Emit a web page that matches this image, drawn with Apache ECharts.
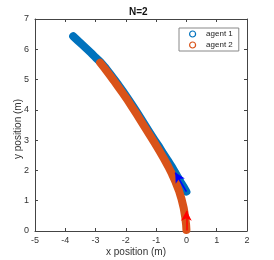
<!DOCTYPE html>
<html><head><meta charset="utf-8">
<script src="https://cdn.jsdelivr.net/npm/echarts@6/dist/echarts.min.js"></script>
<style>html,body{margin:0;padding:0;background:#fff}#c{width:274px;height:260px}</style>
</head><body><div id="c"></div><script>
const xTicks = [-5, -4, -3, -2, -1, 0, 1, 2];
const yTicks = [0, 1, 2, 3, 4, 5, 6, 7];
const agent1X = [-3.74,-3.60,-3.45,-3.30,-3.15,-3.00,-2.85,-2.70,-2.55,-2.40,-2.25,-2.10,-1.95,-1.80,-1.65,-1.50,-1.35,-1.20,-1.05,-0.90,-0.76,-0.62,-0.50,-0.38,-0.28,-0.18,-0.08,0.00];
const agent1Y = [6.43,6.30,6.16,6.02,5.88,5.73,5.59,5.42,5.23,5.03,4.83,4.62,4.40,4.18,3.95,3.71,3.47,3.23,3.00,2.78,2.55,2.34,2.15,1.95,1.77,1.60,1.44,1.30];
const agent2X = [-2.85,-2.70,-2.55,-2.40,-2.25,-2.10,-1.95,-1.80,-1.65,-1.50,-1.35,-1.20,-1.05,-0.90,-0.75,-0.60,-0.48,-0.36,-0.25,-0.16,-0.09,-0.04,-0.01,0.00];
const agent2Y = [5.56,5.37,5.17,4.97,4.76,4.55,4.33,4.10,3.87,3.63,3.39,3.15,2.91,2.66,2.40,2.13,1.89,1.62,1.34,1.05,0.76,0.46,0.20,0.03];
const arrow1 = [[0.00, 1.30], [-0.37, 1.93]];
const arrow2 = [[0.00, 0.02], [0.00, 0.67]];
const names = ['agent 1', 'agent 2'];
const colors = ['#0072BD', '#D95319'];
const arrowColors = ['#0000FF', '#FF0000'];

const zip = (xs, ys) => xs.map((x, i) => [x, ys[i]]);
const axisCol = '#444';
const lblCol = '#333';
const ff = '"Liberation Sans", Arial, sans-serif';

function xAx(pos, labels) {
  return {
    type: 'value', position: pos, min: xTicks[0], max: xTicks[xTicks.length-1], interval: 1,
    axisLine: {show: true, onZero: false, lineStyle: {color: axisCol, width: 1}},
    axisTick: {show: true, inside: true, length: 3, lineStyle: {color: axisCol}},
    splitLine: {show: false},
    axisLabel: {show: labels, color: lblCol, fontSize: 9, fontFamily: ff, margin: 5},
    name: labels ? 'x position (m)' : '', nameLocation: 'middle', nameGap: 16, nameMoveOverlap: false,
    nameTextStyle: {color: lblCol, fontSize: 10, fontFamily: ff, padding: [0, 10, 0, 0]}
  };
}
function yAx(pos, labels) {
  return {
    type: 'value', position: pos, min: yTicks[0], max: yTicks[yTicks.length-1], interval: 1,
    axisLine: {show: true, onZero: false, lineStyle: {color: axisCol, width: 1}},
    axisTick: {show: true, inside: true, length: 3, lineStyle: {color: axisCol}},
    splitLine: {show: false},
    axisLabel: {show: labels, color: lblCol, fontSize: 9, fontFamily: ff, margin: 6},
    name: labels ? 'y position (m)' : '', nameLocation: 'middle', nameGap: 12, nameMoveOverlap: false,
    nameTextStyle: {color: lblCol, fontSize: 10, fontFamily: ff, padding: [0, 8, 0, 0]}
  };
}

const chart = echarts.init(document.getElementById('c'), null, {renderer: 'canvas'});
const agents = [zip(agent1X, agent1Y), zip(agent2X, agent2Y)];
const arrows = [arrow1, arrow2];
chart.setOption({
  animation: false,
  backgroundColor: '#fff',
  title: {text: 'N=2', left: 124, top: 2, textStyle: {fontSize: 10, fontWeight: 'bold', color: '#111', fontFamily: ff}},
  grid: {left: 35, top: 19, width: 212, height: 212, containLabel: false, outerBoundsMode: 'none'},
  legend: {
    orient: 'vertical', left: 179, top: 28, padding: [2, 6, 2, 10],
    backgroundColor: '#fff', borderColor: '#888', borderWidth: 1, borderRadius: 0,
    itemWidth: 7, itemHeight: 6, itemGap: 3,
    textStyle: {fontSize: 8, color: '#222', fontFamily: ff, padding: [0, 0, 0, 5]},
    data: names.map((n, i) => ({name: n, icon: 'circle', itemStyle: {color: '#fff', borderColor: colors[i], borderWidth: 1.2}}))
  },
  xAxis: [xAx('bottom', true), xAx('top', false)],
  yAxis: [yAx('left', true), yAx('right', false)],
  series: names.map((n, i) => ({
    name: n, type: 'line', data: agents[i], showSymbol: false, symbol: 'emptyCircle',
    color: colors[i], z: 2 + i,
    lineStyle: {color: colors[i], width: 8, cap: 'round', join: 'round'},
    markLine: {
      silent: true, symbol: ['none', 'arrow'], symbolSize: [8, 10], z: 10,
      lineStyle: {color: arrowColors[i], width: 1.5, type: 'solid'},
      label: {show: false},
      data: [[{coord: arrows[i][0]}, {coord: arrows[i][1]}]]
    }
  }))
});
</script></body></html>
